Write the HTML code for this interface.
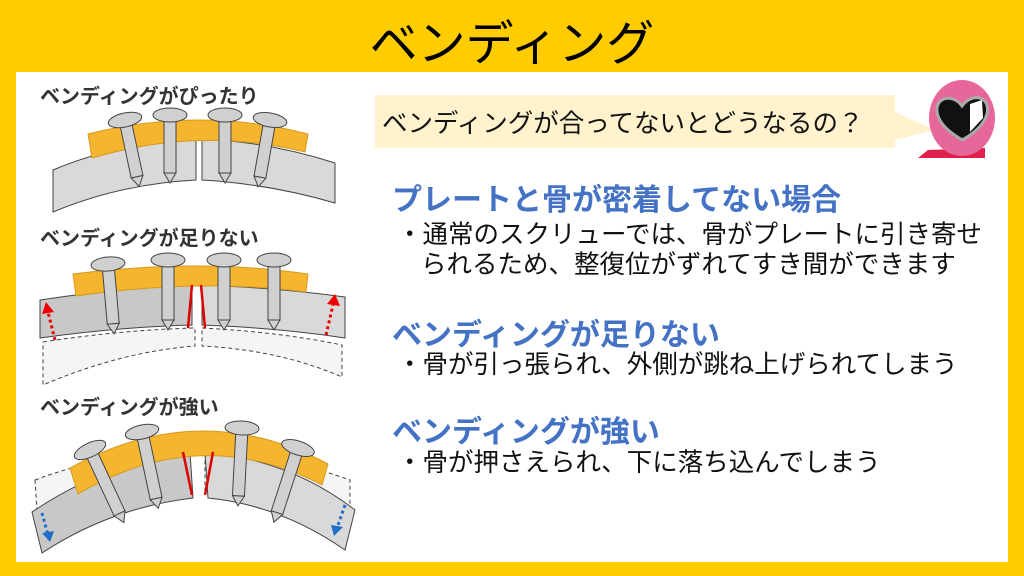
<!DOCTYPE html>
<html><head><meta charset="utf-8"><style>
body{margin:0;width:1024px;height:576px;background:#FFCC00;position:relative;overflow:hidden;font-family:"Liberation Sans","Noto Sans CJK JP",sans-serif}
.title{position:absolute;left:0;width:1024px;top:4px;text-align:center;font-size:48px;color:#000}
.panel{position:absolute;left:16px;top:72px;width:992px;height:490px;background:#fff}
.t{position:absolute;white-space:nowrap}
.lab{font-size:20px;font-weight:bold;color:#333}
.h{font-size:30px;font-weight:bold;color:#4472C4}
.b{font-size:25.5px;color:#111}
</style></head><body>
<div class="title">ベンディング</div>
<div class="panel"></div>
<div class="t lab" style="left:40px;top:80px">ベンディングがぴったり</div>
<div class="t lab" style="left:40px;top:222px">ベンディングが足りない</div>
<div class="t lab" style="left:40px;top:391px">ベンディングが強い</div>
<div style="position:absolute;left:375px;top:95px;width:520px;height:53px;background:#FFF2CC"></div>
<svg style="position:absolute;left:0;top:0" width="1024" height="576">
<polygon points="895,112 935,130 895,140" fill="#FFF2CC"/>
<path d="M928,150 L918,158 L945,158 L985,158 L985,148 Z" fill="#E0204A"/>
<ellipse cx="962" cy="118" rx="33" ry="38" fill="#E8679A"/>
<path d="M962,106 C952,92 932,98 938,116 C942,128 956,136 962,140 C970,136 984,126 987,114 C991,96 972,92 962,106Z" fill="#111" stroke="#aaa" stroke-width="3"/>
<path d="M970,104 L982,100 L983,118 L970,132Z" fill="#fff"/>
<g stroke="#444" stroke-width="1" fill="#D9D9D9">
<path d="M53,170 Q120,142 196,139 L196,180 Q120,184 53,212Z"/>
<path d="M202,139 Q270,142 335,163 L335,203 Q270,184 202,180Z"/>
<path d="M88,134 Q200,106 308,134 L305,152 Q200,126 92,158Z" fill="#F6B52E" stroke="#d49a20"/>
<path d="M40,300 Q120,288 192,285 L192,325 Q120,327 40,338Z" fill="#C8C8C8"/>
<path d="M202,285 Q280,288 345,297 L345,338 Q280,328 202,325Z"/>
<path d="M43,342 Q120,330 195,328 L195,346 Q120,352 43,385Z" fill="#F4F5F5" stroke-dasharray="4,3"/>
<path d="M202,328 Q280,332 342,345 L342,377 Q280,350 202,346Z" fill="#F4F5F5" stroke-dasharray="4,3"/>
<path d="M73,274 Q200,258 308,274 L306,292 Q200,278 76,296Z" fill="#F6B52E" stroke="#d49a20"/>
<path d="M35,480 Q100,455 190,452 L190,493 Q110,498 38,527Z" fill="#F4F5F5" stroke-dasharray="4,3"/>
<path d="M205,452 Q280,455 350,480 L350,525 Q280,498 205,493Z" fill="#F4F5F5" stroke-dasharray="4,3"/>
<path d="M32,512 Q110,460 190,452 L193,498 Q110,508 42,553Z" fill="#C8C8C8"/>
<path d="M205,452 Q290,460 355,510 L345,550 Q280,505 208,498Z"/>
<path d="M70,468 Q200,396 328,464 L322,485 Q200,422 78,494Z" fill="#F6B52E" stroke="#d49a20"/>
</g>
<g stroke="#D00" stroke-width="2.5">
<line x1="192" y1="285" x2="188" y2="328"/><line x1="201" y1="285" x2="205" y2="328"/>
<line x1="183" y1="452" x2="192" y2="495"/><line x1="213" y1="452" x2="205" y2="495"/>
</g>
<g stroke="#E00" stroke-width="3" stroke-dasharray="3,3" fill="#E00">
<line x1="55" y1="340" x2="48" y2="312"/><polygon points="42,314 46,302 54,312" stroke="none"/>
<line x1="326" y1="335" x2="333" y2="305"/><polygon points="327,304 335,294 340,306" stroke="none"/>
</g>
<g stroke="#1F6FC8" stroke-width="3" stroke-dasharray="3,3" fill="#1F6FC8">
<line x1="42" y1="513" x2="48" y2="535"/><polygon points="42,533 54,531 50,542" stroke="none"/>
<line x1="345" y1="505" x2="338" y2="525"/><polygon points="331,525 343,527 334,536" stroke="none"/>
</g>
<g stroke="#444" stroke-width="1" fill="#D0D0D0">
<g transform="translate(125,120) rotate(-12)"><rect x="-6" y="0" width="12" height="58"/><polygon points="-6,58 6,58 0,68"/><ellipse cx="0" cy="0" rx="17" ry="7"/></g>
<g transform="translate(170,115)"><rect x="-6" y="0" width="12" height="58"/><polygon points="-6,58 6,58 0,68"/><ellipse cx="0" cy="0" rx="17" ry="7"/></g>
<g transform="translate(225,115)"><rect x="-6" y="0" width="12" height="58"/><polygon points="-6,58 6,58 0,68"/><ellipse cx="0" cy="0" rx="17" ry="7"/></g>
<g transform="translate(270,120) rotate(10)"><rect x="-6" y="0" width="12" height="58"/><polygon points="-6,58 6,58 0,68"/><ellipse cx="0" cy="0" rx="17" ry="7"/></g>
<g transform="translate(108,264) rotate(-5)"><rect x="-6" y="0" width="12" height="60"/><polygon points="-6,60 6,60 0,70"/><ellipse cx="0" cy="0" rx="17" ry="7"/></g>
<g transform="translate(168,260)"><rect x="-6" y="0" width="12" height="60"/><polygon points="-6,60 6,60 0,70"/><ellipse cx="0" cy="0" rx="17" ry="7"/></g>
<g transform="translate(224,260)"><rect x="-6" y="0" width="12" height="60"/><polygon points="-6,60 6,60 0,70"/><ellipse cx="0" cy="0" rx="17" ry="7"/></g>
<g transform="translate(274,260)"><rect x="-6" y="0" width="12" height="60"/><polygon points="-6,60 6,60 0,70"/><ellipse cx="0" cy="0" rx="17" ry="7"/></g>
<g transform="translate(90,450) rotate(-25)"><rect x="-6" y="0" width="12" height="70"/><polygon points="-6,70 6,70 0,80"/><ellipse cx="0" cy="0" rx="17" ry="7"/></g>
<g transform="translate(142,432) rotate(-12)"><rect x="-6" y="0" width="12" height="68"/><polygon points="-6,68 6,68 0,78"/><ellipse cx="0" cy="0" rx="17" ry="7"/></g>
<g transform="translate(242,428) rotate(3)"><rect x="-6" y="0" width="12" height="68"/><polygon points="-6,68 6,68 0,78"/><ellipse cx="0" cy="0" rx="17" ry="7"/></g>
<g transform="translate(298,448) rotate(18)"><rect x="-6" y="0" width="12" height="68"/><polygon points="-6,68 6,68 0,78"/><ellipse cx="0" cy="0" rx="17" ry="7"/></g>
</g>
</svg>
<div class="t b" style="left:382px;top:103px;font-size:25.5px">ベンディングが合ってないとどうなるの？</div>
<div class="t h" style="left:392px;top:175px">プレートと骨が密着してない場合</div>
<div class="t b" style="left:397px;top:214px">・通常のスクリューでは、骨がプレートに引き寄せ</div>
<div class="t b" style="left:421px;top:244px">られるため、整復位がずれてすき間ができます</div>
<div class="t h" style="left:392px;top:310px">ベンディングが足りない</div>
<div class="t b" style="left:397px;top:344px">・骨が引っ張られ、外側が跳ね上げられてしまう</div>
<div class="t h" style="left:392px;top:407px">ベンディングが強い</div>
<div class="t b" style="left:397px;top:442px">・骨が押さえられ、下に落ち込んでしまう</div>
</body></html>
